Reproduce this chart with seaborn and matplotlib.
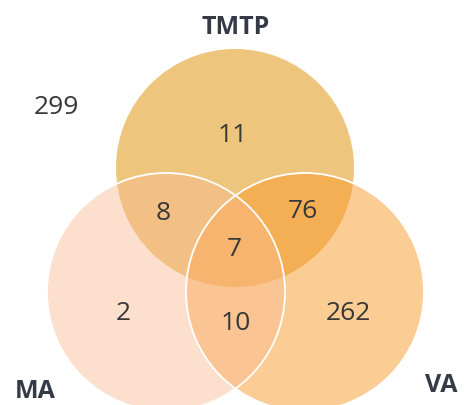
import matplotlib
matplotlib.use('Agg')
import matplotlib.pyplot as plt
from matplotlib.patches import Circle
import seaborn as sns

# set names and region counts
set_names = ['TMTP', 'MA', 'VA']
outside_count = 299
only_tmtp = 11
only_ma = 2
only_va = 262
tmtp_ma = 8
tmtp_va = 76
ma_va = 10
all_three = 7

sns.set_style('white')
plt.rcParams['font.family'] = ['Open Sans', 'DejaVu Sans']

fig = plt.figure(figsize=(4.65, 4.05), dpi=100)
ax = fig.add_axes([0, 0, 1, 1])
ax.set_xlim(0, 465)
ax.set_ylim(405, 0)
ax.set_aspect('equal')
ax.axis('off')

# circle layout (pixel coordinates)
radius = 119
centers = {'TMTP': (235, 168), 'MA': (166, 292), 'VA': (305, 292)}

ax.add_patch(Circle(centers['TMTP'], radius, facecolor='#EDC57C',
                    edgecolor='none', zorder=1))
ax.add_patch(Circle(centers['VA'], radius, facecolor='#FB9B2D',
                    alpha=0.5, edgecolor='none', zorder=2))
ax.add_patch(Circle(centers['MA'], radius, facecolor='#F9BB92',
                    alpha=0.45, edgecolor='none', zorder=3))
for name in ['MA', 'VA']:
    ax.add_patch(Circle(centers[name], radius, facecolor='none',
                        edgecolor='white', linewidth=1.3, zorder=4))

num_color = '#383838'
label_color = '#343B47'
num_kw = dict(ha='center', va='center', fontsize=19, color=num_color, zorder=5)

ax.text(56, 107, str(outside_count), **num_kw)
ax.text(233, 135, str(only_tmtp), **num_kw)
ax.text(123, 314, str(only_ma), **num_kw)
ax.text(348, 314, str(only_va), **num_kw)
ax.text(163, 214, str(tmtp_ma), **num_kw)
ax.text(303, 211, str(tmtp_va), **num_kw)
ax.text(236, 323, str(ma_va), **num_kw)
ax.text(234, 250, str(all_three), **num_kw)

label_pos = {'TMTP': (236, 28), 'MA': (35, 391), 'VA': (441, 386)}
for name in set_names:
    x, y = label_pos[name]
    ax.text(x, y, name, ha='center', va='center', fontsize=18,
            fontweight='bold', color=label_color, zorder=5)

fig.savefig('out.png', dpi=100)
